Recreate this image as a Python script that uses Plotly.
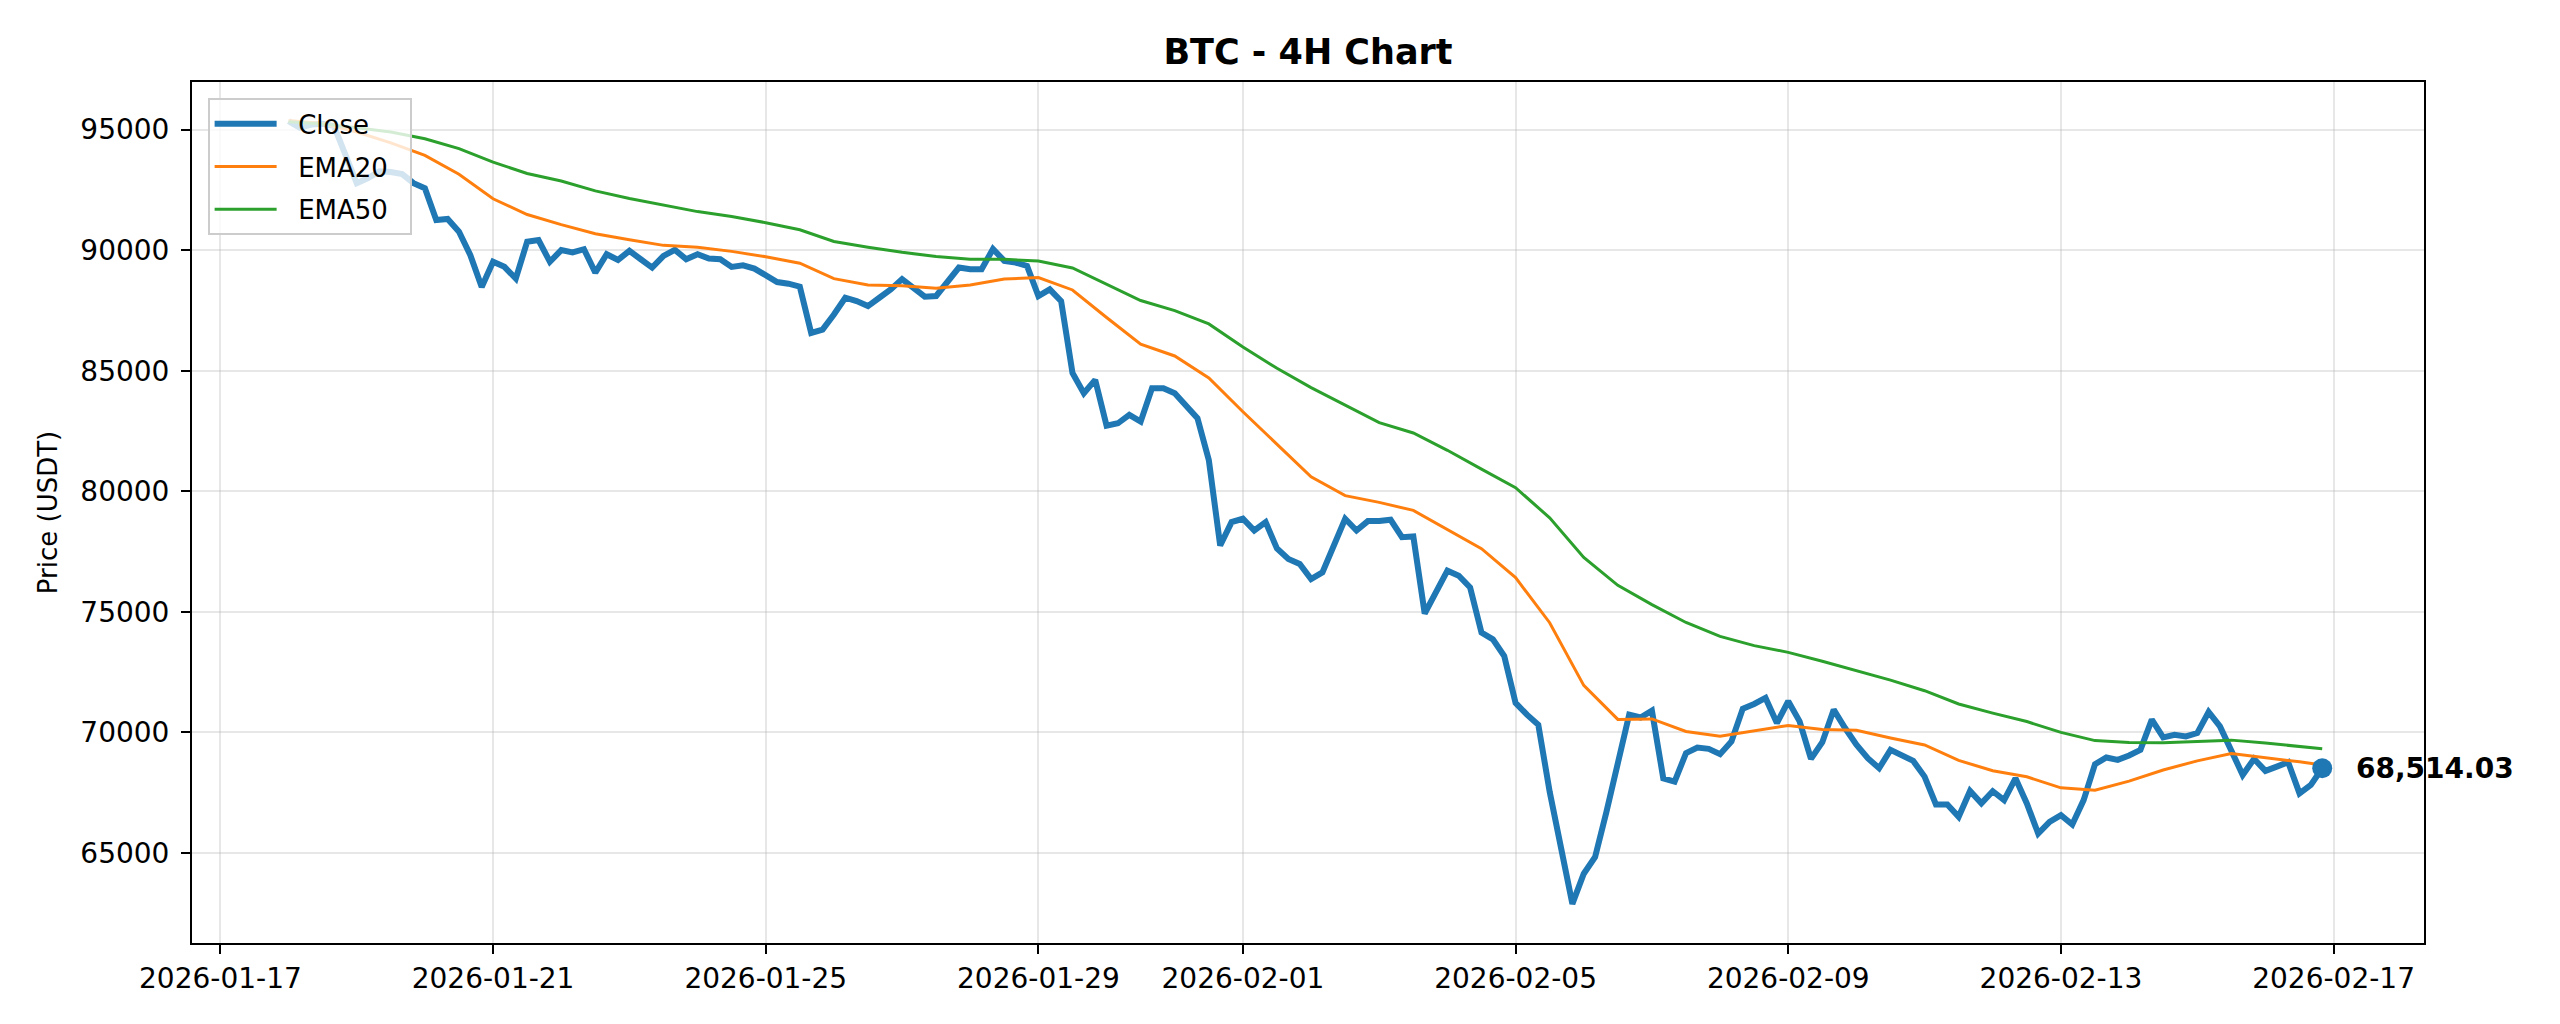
import plotly.graph_objects as go
import pandas as pd

# 4H closes, 2026-01-18 00:00 -> 2026-02-16 20:00
close = [
    95352, 95073, 95210, 95240, 95143, 93960, 92780, 92990, 93268, 93240,
    93156, 92780, 92573, 91252, 91294, 90768, 89793, 88476, 89518, 89310,
    88822, 90352, 90419, 89518, 90002, 89906, 90040, 89070, 89833, 89597,
    89972, 89625, 89278, 89764, 90014, 89625, 89833, 89653, 89625, 89306,
    89375, 89236, 88958, 88680, 88611, 88486, 86569, 86708, 87333, 88028,
    87889, 87681, 88028, 88375, 88800, 88420, 88069, 88100, 88653, 89278,
    89208, 89208, 90050, 89556, 89486, 89347, 88097, 88375, 87889, 84903,
    84069, 84620, 82720, 82820, 83167, 82889, 84278, 84278, 84069, 83583,
    83028, 81292, 77750, 78722, 78861, 78375, 78722, 77625, 77194, 76986,
    76361, 76639, 77750, 78861, 78375, 78764, 78764, 78819, 78097, 78125,
    74931, 75806, 76708, 76500, 76014, 74139, 73861, 73167, 71222, 70736,
    70319, 67542, 65319, 62889, 64139, 64833, 66708, 68653, 70736, 70620,
    70903, 68097, 67958, 69139, 69375, 69320, 69097, 69625, 70986, 71181,
    71431, 70389, 71292, 70458, 68903, 69597, 70944, 70181, 69486, 68931,
    68514, 69278, 69069, 68819, 68167, 67014, 67014, 66500, 67569, 67056,
    67560, 67194, 68097, 67056, 65806, 66292, 66569, 66181, 67194, 68681,
    68958, 68861, 69042, 69278, 70528, 69792, 69903, 69833, 69972, 70847,
    70250, 69208, 68236, 68903, 68403, 68583, 68764, 67472, 67819, 68514.03,
]
times = pd.date_range("2026-01-18 00:00", periods=len(close), freq="4h")

# EMA lines read every 12h, plus the last bar
ema20 = [
    95380, 95250, 94900, 94450, 93930, 93150, 92130, 91480, 91060, 90680,
    90430, 90200, 90125, 89950, 89730, 89458, 88820, 88560, 88520, 88420,
    88560, 88800, 88865, 88350, 87208, 86106, 85613, 84700, 83300, 81950,
    80600, 79820, 79540, 79208, 78400, 77620, 76420, 74550, 71950, 70540,
    70560, 70040, 69840, 70080, 70290, 70120, 70090, 69770, 69480, 68840,
    68410, 68160, 67700, 67600, 67980, 68440, 68819, 69125, 68960, 68780,
    68653,
]
ema50 = [
    95330, 95230, 95080, 94900, 94620, 94210, 93653, 93180, 92870, 92460,
    92140, 91860, 91600, 91400, 91140, 90847, 90360, 90120, 89910, 89736,
    89625, 89620, 89550, 89260, 88600, 87911, 87492, 86940, 85981, 85100,
    84300, 83580, 82850, 82420, 81700, 80920, 80150, 78900, 77260, 76100,
    75300, 74560, 73980, 73600, 73320, 72950, 72570, 72170, 71730, 71180,
    70800, 70450, 70000, 69660, 69580, 69570, 69625, 69680, 69560, 69410,
    69320,
]
ema_times = pd.date_range("2026-01-18 00:00", periods=60, freq="12h").append(
    pd.DatetimeIndex([times[-1]]))

tick_dates = ["2026-01-17", "2026-01-21", "2026-01-25", "2026-01-29", "2026-02-01",
              "2026-02-05", "2026-02-09", "2026-02-13", "2026-02-17"]
price_ticks = [65000, 70000, 75000, 80000, 85000, 90000, 95000]

FONT = "DejaVu Sans"
PAD = "\u00a0\u00a0"  # a little air around legend labels, like the mpl legend

fig = go.Figure()
fig.add_trace(go.Scatter(x=times, y=close, mode="lines", name=PAD + "Close" + PAD,
                         legendgroup="c", line=dict(color="#1f77b4", width=6)))
fig.add_trace(go.Scatter(x=ema_times, y=ema20, mode="lines", name=PAD + "EMA20" + PAD,
                         legendgroup="e20", line=dict(color="#ff7f0e", width=3)))
fig.add_trace(go.Scatter(x=ema_times, y=ema50, mode="lines", name=PAD + "EMA50" + PAD,
                         legendgroup="e50", line=dict(color="#2ca02c", width=3)))
# last price dot
fig.add_trace(go.Scatter(x=[times[-1]], y=[close[-1]], mode="markers", showlegend=False,
                         marker=dict(color="#1f77b4", size=20)))

fig.add_annotation(x=times[-1], y=close[-1], text="<b>{:,.2f}</b>".format(close[-1]),
                   showarrow=False, xanchor="left", yanchor="middle", xshift=32,
                   font=dict(family=FONT, size=28, color="black"))

axis_common = dict(
    showline=True, linecolor="black", linewidth=2, mirror=True,
    ticks="outside", ticklen=9, tickwidth=2, tickcolor="black",
    showgrid=True, gridcolor="rgba(176,176,176,0.3)", gridwidth=2,
    zeroline=False, tickfont=dict(family=FONT, size=28, color="black"),
)

# page body adds an 8px margin, so the figure is 16px smaller than the window
fig.update_layout(
    width=2544, height=1008,
    paper_bgcolor="white", plot_bgcolor="white",
    margin=dict(l=184, r=128, t=74, b=73),
    title=dict(text="<b>BTC - 4H Chart</b>", x=0.5, xref="paper", xanchor="center",
               y=0.957, yanchor="middle",
               font=dict(family=FONT, size=35, color="black")),
    xaxis=dict(axis_common, type="date",
               range=["2026-01-16 14:00", "2026-02-18 07:50"],
               tickvals=tick_dates, ticktext=tick_dates, ticklabelstandoff=0),
    yaxis=dict(axis_common, range=[61266, 96975], tickformat="d",
               tickvals=price_ticks, ticklabelstandoff=6,
               title=dict(text="Price (USDT)", standoff=15,
                          font=dict(family=FONT, size=26, color="black"))),
    legend=dict(x=0.007, y=0.981, xanchor="left", yanchor="top",
                bgcolor="rgba(255,255,255,0.8)", bordercolor="#cccccc", borderwidth=2,
                font=dict(family=FONT, size=26, color="black"),
                itemwidth=62, tracegroupgap=6),
    showlegend=True,
)

fig.write_html("out.html")
